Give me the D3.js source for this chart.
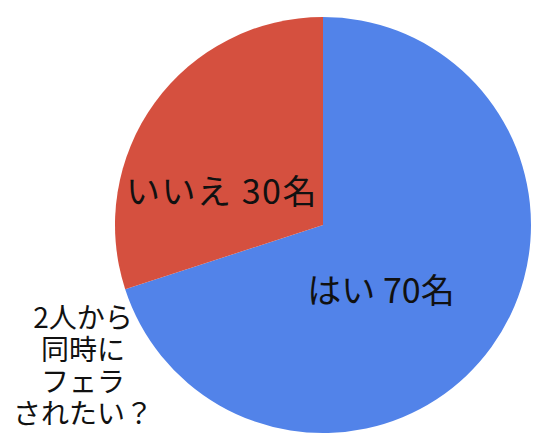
<!DOCTYPE html>
<html>
<head>
<meta charset="utf-8">
<script src="https://cdn.jsdelivr.net/npm/d3@7"></script>
<style>
  body { margin: 0; background: #fff; }
  text { font-family: "Noto Sans CJK JP", sans-serif; fill: #111; }
</style>
</head>
<body>
<div class="chart"></div>
<script>
const answers = ["はい", "いいえ"];
const counts = [70, 30];
const colors = ["#5283E9", "#D5503F"];
const question = ["2人から", "同時に", "フェラ", "されたい？"];

const width = 540, height = 447;
const cx = 323, cy = 225, radius = 208;

const svg = d3.select("div.chart").append("svg")
  .attr("width", width)
  .attr("height", height);

const data = answers.map((a, i) => ({ label: a, value: counts[i], color: colors[i] }));

const pie = d3.pie().sort(null).value(d => d.value);
const arc = d3.arc().innerRadius(0).outerRadius(radius);

const g = svg.append("g").attr("transform", `translate(${cx},${cy})`);

g.selectAll("path.slice")
  .data(pie(data))
  .join("path")
  .attr("class", "slice")
  .attr("d", arc)
  .attr("fill", d => d.data.color);

// label offsets relative to the centre, by slice
const labelPos = [[58, 63], [-101, -36]];

g.selectAll("text.slice-label")
  .data(pie(data))
  .join("text")
  .attr("class", "slice-label")
  .attr("x", (d, i) => labelPos[i][0])
  .attr("y", (d, i) => labelPos[i][1])
  .attr("text-anchor", "middle")
  .attr("dominant-baseline", "central")
  .style("font-size", "34px")
  .style("letter-spacing", (d, i) => i === 1 ? "1.5px" : null)
  .text(d => `${d.data.label} ${d.data.value}名`);

// question text, one line per row
svg.selectAll("text.question")
  .data(question)
  .join("text")
  .attr("class", "question")
  .attr("text-anchor", "middle")
  .style("font-size", "28px")
  .attr("x", 83)
  .attr("y", (d, i) => 328 + i * 32)
  .text(d => d);
</script>
</body>
</html>
